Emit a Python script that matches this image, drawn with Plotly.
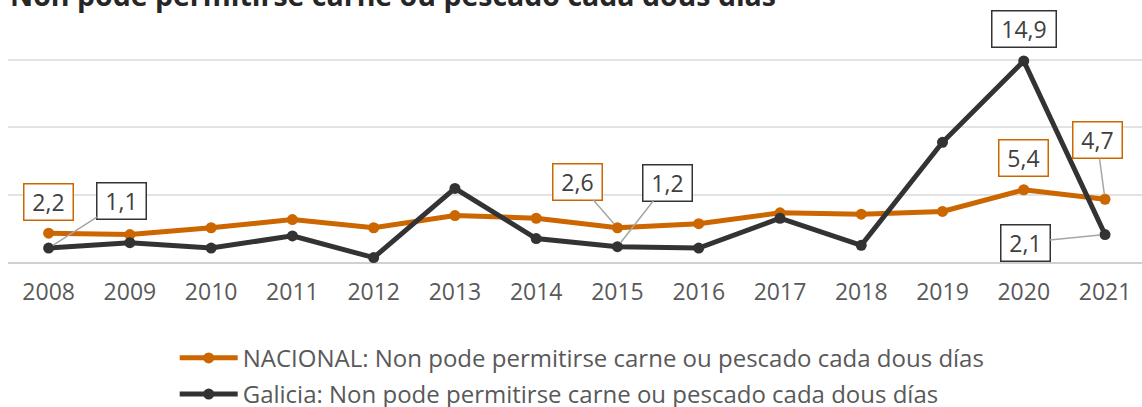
import plotly.graph_objects as go

years = [2008, 2009, 2010, 2011, 2012, 2013, 2014, 2015, 2016, 2017, 2018, 2019, 2020, 2021]
nacional = [2.2, 2.1, 2.6, 3.2, 2.6, 3.5, 3.3, 2.6, 2.9, 3.7, 3.6, 3.8, 5.4, 4.7]
galicia = [1.1, 1.5, 1.1, 2.0, 0.4, 5.5, 1.8, 1.2, 1.1, 3.3, 1.3, 8.9, 14.9, 2.1]
name_nac = "NACIONAL: Non pode permitirse carne ou pescado cada dous días"
name_gal = "Galicia: Non pode permitirse carne ou pescado cada dous días"
title = "Non pode permitirse carne ou pescado cada dous días"

ORANGE = "#CC6600"
DARK = "#333333"
FONT = "Open Sans"

fig = go.Figure()
fig.add_trace(go.Scatter(x=years, y=nacional, mode="lines+markers", name=name_nac,
                         line=dict(color=ORANGE, width=5), marker=dict(size=11, color=ORANGE),
                         cliponaxis=False, legendgroup="a"))
fig.add_trace(go.Scatter(x=years, y=galicia, mode="lines+markers", name=name_gal,
                         line=dict(color=DARK, width=5), marker=dict(size=11, color=DARK),
                         cliponaxis=False, legendgroup="b"))

def fmt(v):
    return f"{v:.1f}".replace(".", ",")

# (series values, index, colour, dx, dy, arrow)
labels = [
    (nacional, 0, ORANGE, 0, -31, False),
    (galicia, 0, DARK, 73, -47, True),
    (nacional, 7, ORANGE, -40, -46, True),
    (galicia, 7, DARK, 50, -64, True),
    (galicia, 12, DARK, 0, -32, False),
    (nacional, 12, ORANGE, 0, -32, False),
    (nacional, 13, ORANGE, -8, -59, True),
    (galicia, 13, DARK, -80, 8, True),
]
for vals, i, col, dx, dy, arrow in labels:
    txt = fmt(vals[i])
    w = 59 if len(txt) > 3 else 44
    common = dict(x=years[i], y=vals[i], xref="x", yref="y", text=txt,
                  font=dict(family=FONT, size=23, color="#404040"),
                  bgcolor="white", bordercolor=col, borderwidth=1.5, borderpad=2,
                  width=w, height=31, align="center", valign="middle")
    if arrow:
        fig.add_annotation(**common, showarrow=True, ax=dx, ay=dy, arrowhead=0,
                           arrowwidth=1.5, arrowcolor="#A6A6A6", standoff=5)
    else:
        fig.add_annotation(**common, showarrow=False, xshift=dx, yshift=-dy)

fig.add_annotation(x=0, y=1.140, xref="paper", yref="paper", xanchor="left", yanchor="bottom",
                   text="<b>" + title + "</b>", showarrow=False,
                   font=dict(family=FONT, size=28.5, color="#262626"))

fig.update_layout(
    width=1142, height=407,
    margin=dict(l=8, r=0, t=46, b=144, autoexpand=False),
    paper_bgcolor="white", plot_bgcolor="white",
    font=dict(family=FONT, color="#595959"),
    xaxis=dict(range=[2007.5, 2021.455], tickvals=years, ticktext=[str(y) for y in years],
               showgrid=False, zeroline=False, showline=False, automargin=False,
               tickfont=dict(size=23, color="#595959"), ticks="outside", ticklen=8,
               tickcolor="rgba(0,0,0,0)"),
    yaxis=dict(range=[0, 16], dtick=5, showticklabels=False, showgrid=True, automargin=False,
               gridcolor="#E3E3E3", gridwidth=1.5, zeroline=True, zerolinecolor="#D0D0D0",
               zerolinewidth=2),
    showlegend=True,
    legend=dict(orientation="v", x=0.147, xanchor="left", yref="container", y=0.175,
                yanchor="top",
                font=dict(family=FONT, size=24, color="#595959"),
                tracegroupgap=2, itemwidth=58, bgcolor="rgba(0,0,0,0)"),
)

fig.write_html("out.html", config={"displayModeBar": False},
               post_script="document.body.style.margin='0px';")
